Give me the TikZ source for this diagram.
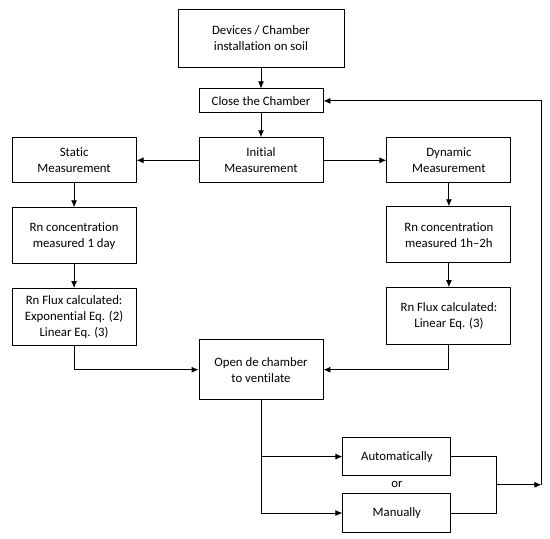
\documentclass[tikz,border=0pt]{standalone}
\usepackage{fontspec}
\setmainfont{Carlito}[Ligatures={TeX,NoCommon}]
\usepackage{tikz}
\usetikzlibrary{arrows.meta, positioning, calc}
\tikzstyle{box} = [rectangle, draw, align=center, inner sep=0pt, line width=0.9pt, minimum width=124pt, font=\fontsize{12.8}{16}\selectfont]
\tikzstyle{arrow} = [line width=0.9pt,-{Latex[length=7pt,width=6pt]}]
\tikzstyle{line} = [line width=0.9pt]

\begin{document}
\begin{tikzpicture}[x=1pt, y=-1pt]
  \useasboundingbox (0,0) rectangle (550,539);
  \node[box, minimum width=166pt, minimum height=58pt] (devices) at (261,38) {Devices / Chamber\\installation on soil};
  \node[box, minimum height=24pt, below=21pt of devices] (close) {Close the Chamber};
  \node[box, minimum height=45pt, below=24pt of close] (init) {Initial\\Measurement};
  \node[box, minimum height=45pt, left=62pt of init] (static) {Static\\Measurement};
  \node[box, minimum height=45pt, right=63pt of init] (dynamic) {Dynamic\\Measurement};
  \node[box, minimum height=56pt, below=24pt of static] (conc1) {Rn concentration\\measured 1 day};
  \node[box, minimum height=56pt, below=23pt of dynamic] (conc2) {Rn concentration\\measured 1h--2h};
  \node[box, minimum height=57pt, below=24pt of conc1] (flux1) {Rn Flux calculated:\\Exponential Eq. (2)\\Linear Eq. (3)};
  \node[box, minimum height=57pt, below=24pt of conc2] (flux2) {Rn Flux calculated:\\Linear Eq. (3)};
  \node[box, minimum height=60pt, below=156pt of init] (open) {Open de chamber\\to ventilate};
  \node[box, minimum width=108pt, minimum height=38pt, below right=37pt and 19pt of open] (auto) {Automatically};
  \node[box, minimum width=108pt, minimum height=39pt, below=17pt of auto] (manual) {Manually};
  \node[font=\fontsize{12.8}{16}\selectfont] (or) at ($(auto.south)!0.5!(manual.north)$) {or};
  \coordinate (join) at ($(auto.east)!0.5!(manual.east)+(45pt,0)$);
  \coordinate (loop) at ($(join)+(45pt,0)$);
  % main sequence
  \draw[arrow] (devices) -- (close);
  \draw[arrow] (close) -- (init);
  \draw[arrow] (init) -- (static);
  \draw[arrow] (init) -- (dynamic);
  \draw[arrow] (static) -- (conc1);
  \draw[arrow] (conc1) -- (flux1);
  \draw[arrow] (dynamic) -- (conc2);
  \draw[arrow] (conc2) -- (flux2);
  \draw[arrow] (flux1.south) |- (open.west);
  \draw[arrow] (flux2.south) |- (open.east);
  % ventilation and loop back
  \draw[arrow] (open.south) |- (auto.west);
  \draw[arrow] (open.south) |- (manual.west);
  \draw[line] (auto.east) -| (join);
  \draw[line] (manual.east) -| (join);
  \draw[arrow] (join) -- (loop);
  \draw[arrow] (loop) |- (close.east);
\end{tikzpicture}
\end{document}
